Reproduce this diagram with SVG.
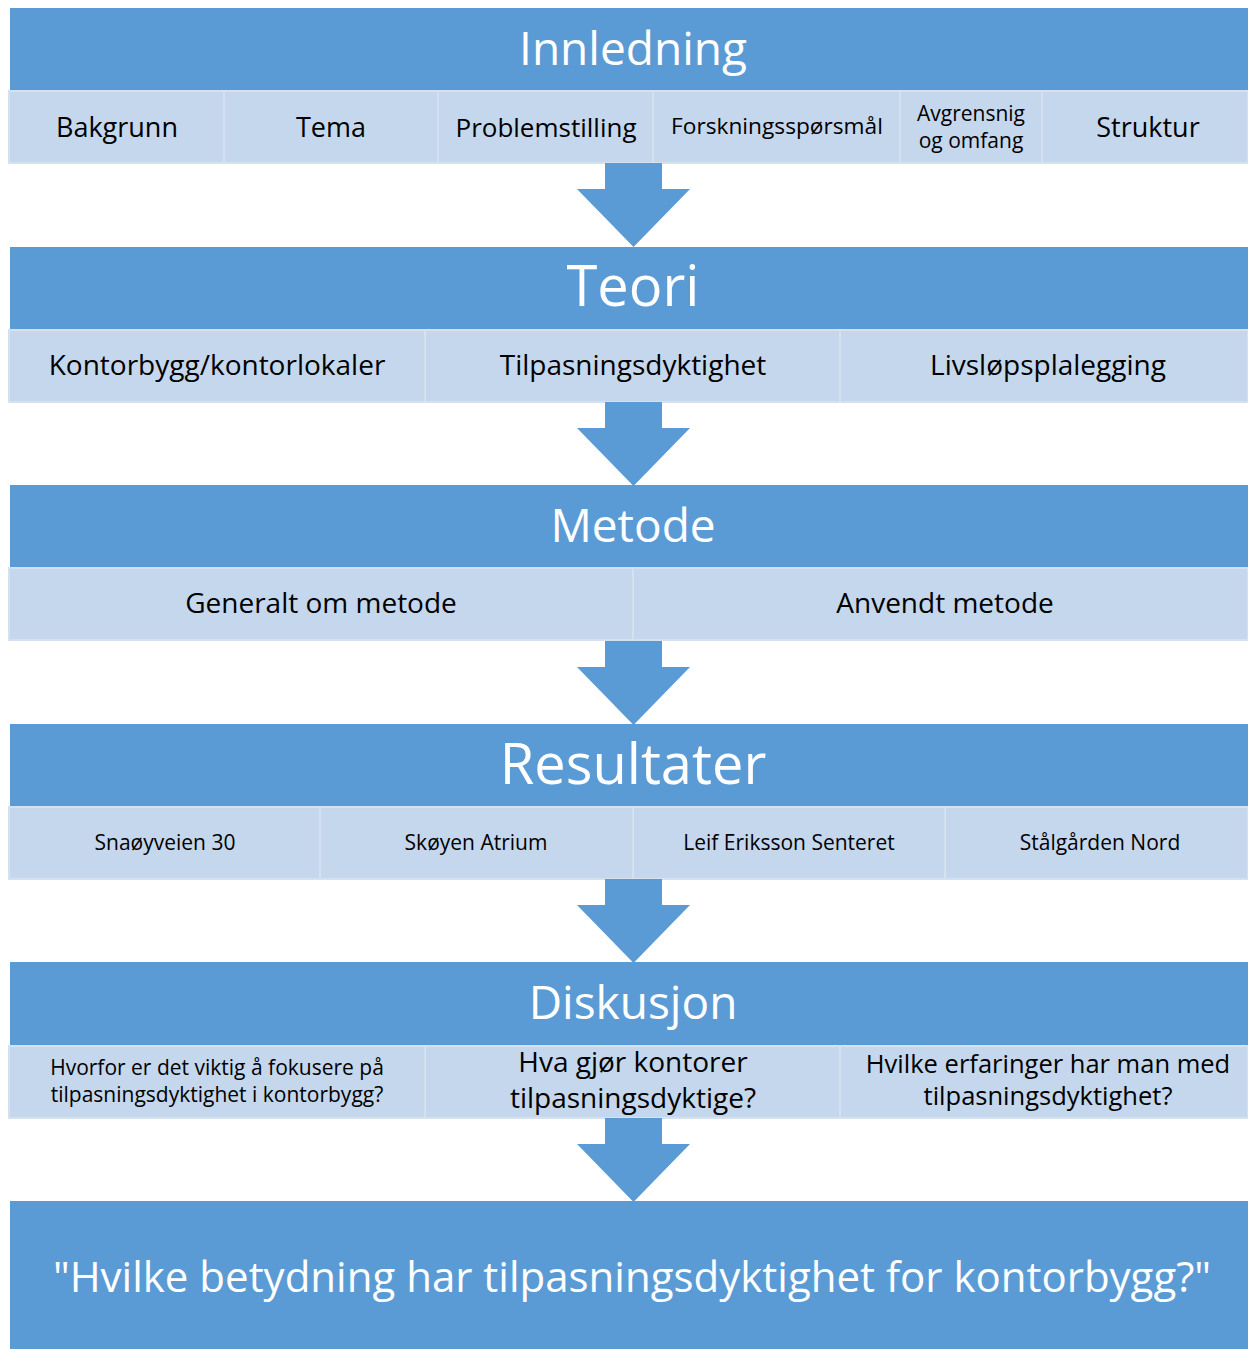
<svg xmlns="http://www.w3.org/2000/svg" width="1248" height="1349" viewBox="0 0 1248 1349">
  <style>
    .hdr { fill: #5B9BD5; }
    .cell { fill: #C5D7EC; stroke: #D3E1F1; stroke-width: 2; }
    .arrow { fill: #5B9BD5; }
    text { font-family: "Open Sans", "Liberation Sans", sans-serif; text-anchor: middle; }
    .ht { fill: #FFFFFF; font-size: 46px; }
    .hl { fill: #FFFFFF; font-size: 56px; }
    .ct { fill: #000000; font-size: 27px; }
    .cl { fill: #000000; font-size: 28px; }
    .cs { fill: #000000; font-size: 21px; }
    .cm { fill: #000000; font-size: 25.5px; }
  </style>
  <rect width="1248" height="1349" fill="#FFFFFF"/>
  <defs>
    <path id="down" d="M605,0 H662 V26 H690 L633.5,84 L577,26 H605 Z"/>
  </defs>

  <!-- Innledning -->
  <g id="innledning">
    <rect class="hdr" x="10" y="8" width="1238" height="82"/>
    <text class="ht" x="633" y="65">Innledning</text>
    <rect class="cell" x="9" y="91" width="215" height="72"/>
    <rect class="cell" x="224" y="91" width="214" height="72"/>
    <rect class="cell" x="438" y="91" width="215" height="72"/>
    <rect class="cell" x="653" y="91" width="247" height="72"/>
    <rect class="cell" x="900" y="91" width="142" height="72"/>
    <rect class="cell" x="1042" y="91" width="206" height="72"/>
    <text class="ct" x="117" y="137">Bakgrunn</text>
    <text class="ct" x="331" y="137">Tema</text>
    <text class="ct" x="546" y="137" style="font-size:26px">Problemstilling</text>
    <text class="cs" x="777" y="134" style="font-size:22.7px">Forskningsspørsmål</text>
    <text class="cs" x="971" y="121">Avgrensnig</text>
    <text class="cs" x="971" y="148">og omfang</text>
    <text class="ct" x="1148" y="137">Struktur</text>
  </g>

  <!-- Teori -->
  <g id="teori">
    <rect class="hdr" x="10" y="247" width="1238" height="82"/>
    <text class="hl" x="633" y="306">Teori</text>
    <rect class="cell" x="9" y="330" width="416" height="72"/>
    <rect class="cell" x="425" y="330" width="415" height="72"/>
    <rect class="cell" x="840" y="330" width="408" height="72"/>
    <text class="cl" x="217" y="375">Kontorbygg/kontorlokaler</text>
    <text class="cl" x="633" y="375">Tilpasningsdyktighet</text>
    <text class="cl" x="1048" y="375">Livsløpsplalegging</text>
  </g>

  <!-- Metode -->
  <g id="metode">
    <rect class="hdr" x="10" y="485" width="1238" height="82"/>
    <text class="ht" x="633" y="542">Metode</text>
    <rect class="cell" x="9" y="568" width="624" height="72"/>
    <rect class="cell" x="633" y="568" width="615" height="72"/>
    <text class="cl" x="321" y="613">Generalt om metode</text>
    <text class="cl" x="945" y="613">Anvendt metode</text>
  </g>

  <!-- Resultater -->
  <g id="resultater">
    <rect class="hdr" x="10" y="724" width="1238" height="82"/>
    <text class="hl" x="633" y="784">Resultater</text>
    <rect class="cell" x="9" y="807" width="311" height="72"/>
    <rect class="cell" x="320" y="807" width="313" height="72"/>
    <rect class="cell" x="633" y="807" width="312" height="72"/>
    <rect class="cell" x="945" y="807" width="303" height="72"/>
    <text class="cs" x="165" y="850">Snaøyveien 30</text>
    <text class="cs" x="476" y="850">Skøyen Atrium</text>
    <text class="cs" x="789" y="850">Leif Eriksson Senteret</text>
    <text class="cs" x="1100" y="850">Stålgården Nord</text>
  </g>

  <!-- Diskusjon -->
  <g id="diskusjon">
    <rect class="hdr" x="10" y="962" width="1238" height="83"/>
    <text class="ht" x="633" y="1019">Diskusjon</text>
    <rect class="cell" x="9" y="1046" width="416" height="72"/>
    <rect class="cell" x="425" y="1046" width="415" height="72"/>
    <rect class="cell" x="840" y="1046" width="408" height="72"/>
    <text class="cs" x="217" y="1075">Hvorfor er det viktig å fokusere på</text>
    <text class="cs" x="217" y="1102">tilpasningsdyktighet i kontorbygg?</text>
    <text class="cl" x="633" y="1072">Hva gjør kontorer</text>
    <text class="cl" x="633" y="1108">tilpasningsdyktige?</text>
    <text class="cm" x="1048" y="1073">Hvilke erfaringer har man med</text>
    <text class="cm" x="1048" y="1105">tilpasningsdyktighet?</text>
  </g>

  <!-- Problemstilling -->
  <g id="konklusjon">
    <rect class="hdr" x="10" y="1201" width="1238" height="148"/>
    <text class="ht" x="632" y="1292" style="font-size:42px">"Hvilke betydning har tilpasningsdyktighet for kontorbygg?"</text>
  </g>

  <!-- Connectors -->
  <g id="connectors">
    <use href="#down" class="arrow" y="163"/>
    <use href="#down" class="arrow" y="402"/>
    <use href="#down" class="arrow" y="641"/>
    <use href="#down" class="arrow" y="879"/>
    <use href="#down" class="arrow" y="1118"/>
  </g>
</svg>
